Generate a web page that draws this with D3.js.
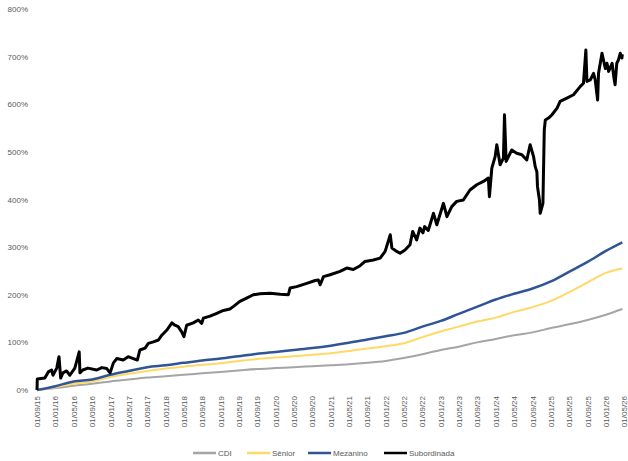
<!DOCTYPE html>
<html>
<head>
<meta charset="utf-8">
<script src="https://cdn.jsdelivr.net/npm/d3@7.9.0/dist/d3.min.js"></script>
<style>
  html, body { margin: 0; padding: 0; background: #fff; }
  svg { display: block; font-family: "Liberation Sans", Arial, sans-serif; }
  .tick text { fill: #595959; font-size: 8px; }
  .legend text { fill: #595959; font-size: 8px; }
</style>
</head>
<body>
<svg id="chart" width="628" height="461"></svg>
<script>
// quarterly (every 4 months) reference dates for the smooth series
const smoothDates = [
  '2015-09-01', '2016-01-01', '2016-05-01', '2016-09-01', '2017-01-01', '2017-05-01',
  '2017-09-01', '2018-01-01', '2018-05-01', '2018-09-01', '2019-01-01', '2019-05-01',
  '2019-09-01', '2020-01-01', '2020-05-01', '2020-09-01', '2021-01-01', '2021-05-01',
  '2021-09-01', '2022-01-01', '2022-05-01', '2022-09-01', '2023-01-01', '2023-05-01',
  '2023-09-01', '2024-01-01', '2024-05-01', '2024-09-01', '2025-01-01', '2025-05-01',
  '2025-09-01', '2026-01-01', '2026-04-20'
];

const cdi = [0, 4, 9, 13, 18, 22, 26, 29, 32, 35, 38, 41, 44, 46, 48, 50, 52, 54,
  57, 61, 67, 75, 84, 91, 100, 107, 115, 121, 130, 138, 147, 158, 170];

const senior = [0, 6, 13, 18, 27, 34, 40, 45, 49, 53, 56, 61, 65, 68, 71, 74, 77, 82,
  87, 92, 98, 111, 123, 133, 144, 152, 164, 174, 187, 205, 226, 246, 255];

const mezanino = [0, 8, 18, 22, 32, 40, 48, 52, 57, 62, 66, 71, 76, 80, 84, 88, 93, 99,
  106, 113, 120, 133, 145, 160, 175, 190, 202, 213, 228, 248, 269, 292, 310];

// Subordinada is noisy, so it gets its own dates
const subDates = [
  '2015-09-01', '2015-09-03', '2015-10-23', '2015-11-15', '2015-12-07', '2015-12-16',
  '2016-01-10', '2016-01-25', '2016-02-05', '2016-02-20', '2016-03-15', '2016-04-06',
  '2016-05-09', '2016-06-07', '2016-06-12', '2016-07-01', '2016-08-04', '2016-10-01',
  '2016-11-04', '2016-12-07', '2016-12-29', '2017-01-20', '2017-02-12', '2017-03-26',
  '2017-04-28', '2017-06-01', '2017-06-28', '2017-07-15', '2017-08-18', '2017-09-09',
  '2017-10-12', '2017-11-15', '2017-12-07', '2018-01-10', '2018-02-12', '2018-03-04',
  '2018-03-26', '2018-04-18', '2018-05-03', '2018-05-21', '2018-07-04', '2018-08-06',
  '2018-08-29', '2018-09-09', '2018-10-23', '2018-12-07', '2019-01-20', '2019-03-04',
  '2019-03-26', '2019-05-09', '2019-06-23', '2019-08-06', '2019-09-20', '2019-11-26',
  '2020-02-01', '2020-03-26', '2020-04-06', '2020-05-20', '2020-07-26', '2020-09-20',
  '2020-10-11', '2020-10-23', '2020-11-14', '2020-12-28', '2021-03-04', '2021-04-17',
  '2021-05-31', '2021-07-15', '2021-08-17', '2021-10-11', '2021-11-25', '2021-12-28',
  '2022-01-31', '2022-02-11', '2022-03-15', '2022-04-06', '2022-05-09', '2022-06-11',
  '2022-06-29', '2022-07-25', '2022-08-16', '2022-09-05', '2022-09-16', '2022-10-10',
  '2022-11-14', '2022-12-06', '2023-01-19', '2023-02-11', '2023-03-15', '2023-04-17',
  '2023-05-31', '2023-07-14', '2023-08-28', '2023-10-11', '2023-11-13', '2023-11-20',
  '2023-12-06', '2023-12-28', '2024-01-08', '2024-01-30', '2024-02-21', '2024-02-28',
  '2024-03-10', '2024-04-16', '2024-05-19', '2024-06-22', '2024-07-25', '2024-08-16',
  '2024-09-08', '2024-09-19', '2024-09-30', '2024-10-04', '2024-10-17', '2024-10-22',
  '2024-11-09', '2024-11-18', '2024-11-25', '2024-12-16', '2025-01-08', '2025-02-11',
  '2025-03-03', '2025-04-17', '2025-05-31', '2025-07-14', '2025-08-05', '2025-08-21',
  '2025-08-28', '2025-09-19', '2025-10-11', '2025-10-22', '2025-11-07', '2025-11-13',
  '2025-12-06', '2025-12-28', '2026-01-08', '2026-01-19', '2026-02-11', '2026-02-22',
  '2026-03-03', '2026-03-14', '2026-03-25', '2026-04-06', '2026-04-17', '2026-04-20'
];

const subordinada = [
  0, 23, 25, 38, 42, 31,
  46, 70, 25, 36, 40, 31,
  46, 80, 36, 42, 46, 42,
  47, 45, 36, 57, 66, 63,
  70, 66, 63, 84, 88, 98,
  101, 105, 115, 126, 141, 136,
  133, 122, 112, 136, 141, 147,
  140, 151, 155, 161, 167, 170,
  175, 186, 193, 200, 202, 203,
  201, 200, 214, 217, 224, 230,
  231, 221, 238, 242, 249, 256,
  253, 261, 270, 273, 277, 291,
  326, 298, 291, 287, 294, 305,
  333, 315, 340, 330, 343, 335,
  371, 347, 392, 364, 385, 396,
  399, 420, 431, 438, 445, 406,
  466, 490, 515, 473, 487, 578,
  480, 504, 497, 494, 483, 515,
  490, 469, 458, 427, 399, 371,
  392, 546, 567, 571, 578, 592,
  606, 613, 620, 637, 644, 714,
  648, 651, 665, 651, 609, 665,
  707, 675, 686, 669, 686, 658,
  641, 686, 693, 707, 697, 705
];

const seriesNames = ['CDI', 'Sênior', 'Mezanino', 'Subordinada'];
const seriesColors = ['#a5a5a5', '#ffd966', '#2f5597', '#000000'];
const seriesWidths = [2, 2, 2.5, 3];
const yTicks = [0, 100, 200, 300, 400, 500, 600, 700, 800];

const parse = d3.timeParse('%Y-%m-%d');
const fmt = d3.timeFormat('%d/%m/%y');

const svg = d3.select('#chart');

const x = d3.scaleTime()
  .domain([parse('2015-09-01'), parse('2026-05-01')])
  .range([37, 624]);

const y = d3.scaleLinear()
  .domain([0, 800])
  .range([390, 9]);

// axes without lines
const xAxis = svg.append('g')
  .attr('transform', 'translate(0,392)')
  .call(d3.axisBottom(x).ticks(d3.timeMonth.every(4)).tickFormat(fmt).tickSize(0));
xAxis.select('.domain').remove();
xAxis.selectAll('text')
  .attr('transform', 'rotate(-90)')
  .attr('text-anchor', 'end')
  .attr('x', -4)
  .attr('y', 0)
  .attr('dy', '0.32em');

const yAxis = svg.append('g')
  .attr('transform', 'translate(30,0)')
  .call(d3.axisLeft(y).tickValues(yTicks).tickFormat((d) => d + '%').tickSize(0));
yAxis.select('.domain').remove();
yAxis.selectAll('text').attr('x', -2);

const smooth = smoothDates.map(parse);
const subD = subDates.map(parse);

const allSeries = [
  cdi.map((v, i) => [smooth[i], v]),
  senior.map((v, i) => [smooth[i], v]),
  mezanino.map((v, i) => [smooth[i], v]),
  subordinada.map((v, i) => [subD[i], v])
];

const smoothLine = d3.line()
  .x((d) => x(d[0]))
  .y((d) => y(d[1]))
  .curve(d3.curveMonotoneX);

const rawLine = d3.line()
  .x((d) => x(d[0]))
  .y((d) => y(d[1]))
  .curve(d3.curveLinear);

allSeries.forEach((data, i) => {
  svg.append('path')
    .datum(data)
    .attr('fill', 'none')
    .attr('stroke', seriesColors[i])
    .attr('stroke-width', seriesWidths[i])
    .attr('stroke-linejoin', 'round')
    .attr('d', i === 3 ? rawLine : smoothLine);
});

// legend
const legendX = [193, 247, 308, 384];
const legend = svg.append('g').attr('class', 'legend');
seriesNames.forEach((name, i) => {
  legend.append('line')
    .attr('x1', legendX[i]).attr('x2', legendX[i] + 23)
    .attr('y1', 453).attr('y2', 453)
    .attr('stroke', seriesColors[i])
    .attr('stroke-width', 2.5);
  legend.append('text')
    .attr('x', legendX[i] + 25)
    .attr('y', 453)
    .attr('dy', '0.32em')
    .text(name);
});
</script>
</body>
</html>
